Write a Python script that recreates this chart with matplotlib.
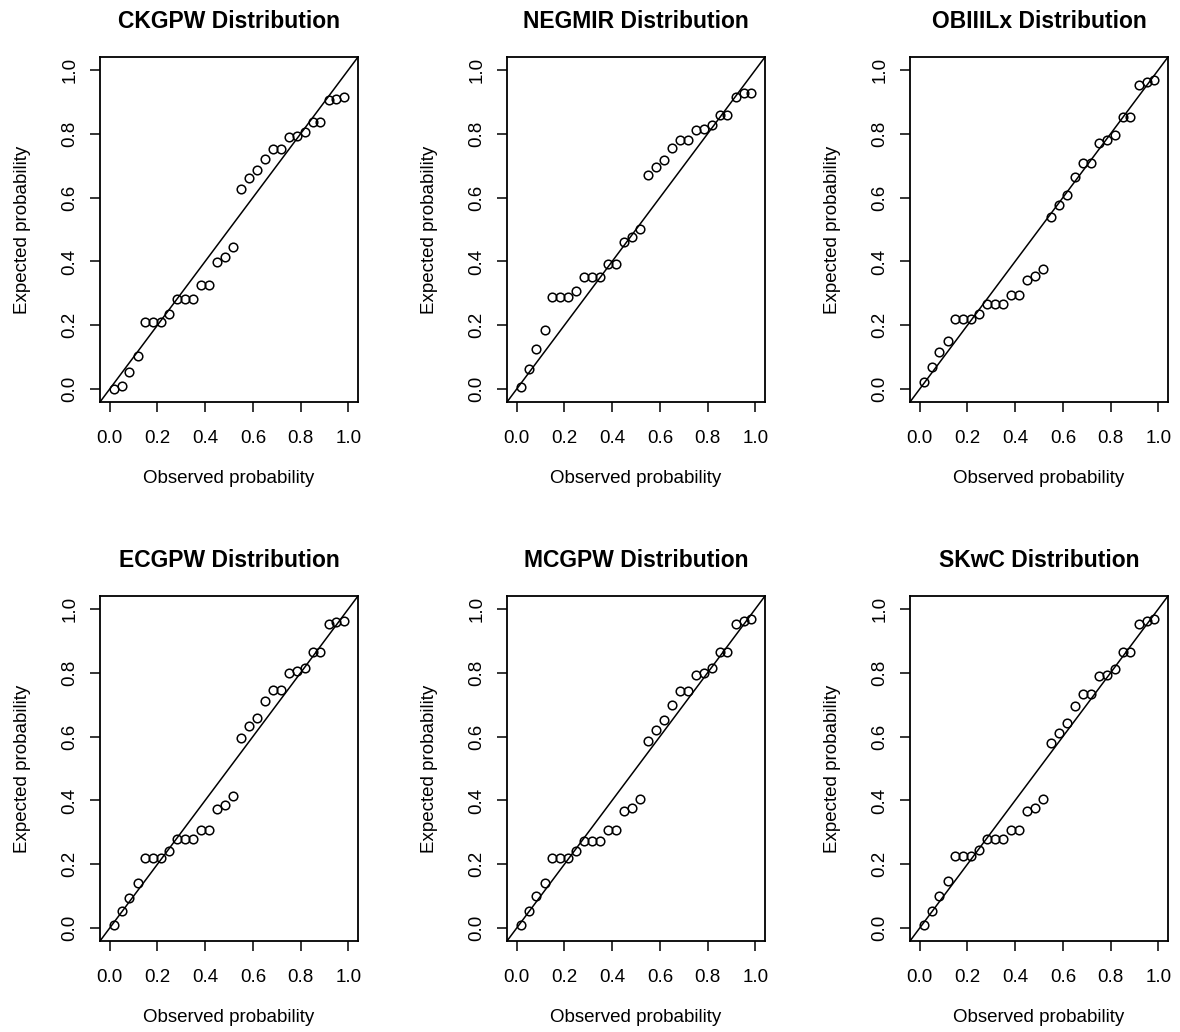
import matplotlib
matplotlib.use("Agg")
import matplotlib.pyplot as plt

plt.rcParams['font.family'] = ['Liberation Sans', 'DejaVu Sans']

# observed probabilities (same for every panel)
observed = [0.017, 0.050, 0.083, 0.117, 0.150, 0.183, 0.217, 0.250, 0.283, 0.317,
            0.350, 0.383, 0.417, 0.450, 0.483, 0.517, 0.550, 0.583, 0.617, 0.650,
            0.683, 0.717, 0.750, 0.783, 0.817, 0.850, 0.883, 0.917, 0.950, 0.983]

titles = ["CKGPW Distribution", "NEGMIR Distribution", "OBIIILx Distribution",
          "ECGPW Distribution", "MCGPW Distribution", "SKwC Distribution"]

ckgpw = [0.000, 0.010, 0.053, 0.105, 0.209, 0.209, 0.209, 0.236, 0.283, 0.283,
         0.283, 0.325, 0.325, 0.398, 0.414, 0.445, 0.628, 0.660, 0.686, 0.721,
         0.752, 0.752, 0.789, 0.794, 0.805, 0.837, 0.837, 0.904, 0.909, 0.914]
negmir = [0.006, 0.064, 0.126, 0.184, 0.288, 0.288, 0.288, 0.309, 0.351, 0.351,
          0.351, 0.393, 0.393, 0.461, 0.476, 0.502, 0.670, 0.696, 0.717, 0.754,
          0.780, 0.780, 0.811, 0.816, 0.827, 0.858, 0.858, 0.914, 0.927, 0.927]
obiiilx = [0.022, 0.069, 0.116, 0.152, 0.220, 0.220, 0.220, 0.236, 0.267, 0.267,
           0.267, 0.294, 0.294, 0.341, 0.356, 0.377, 0.539, 0.576, 0.607, 0.665,
           0.707, 0.707, 0.770, 0.780, 0.795, 0.853, 0.853, 0.953, 0.963, 0.969]
ecgpw = [0.011, 0.053, 0.095, 0.142, 0.220, 0.220, 0.220, 0.241, 0.278, 0.278,
         0.278, 0.309, 0.309, 0.372, 0.387, 0.413, 0.596, 0.633, 0.659, 0.711,
         0.747, 0.747, 0.800, 0.805, 0.815, 0.864, 0.864, 0.953, 0.958, 0.963]
mcgpw = [0.011, 0.053, 0.100, 0.142, 0.220, 0.220, 0.220, 0.241, 0.272, 0.272,
         0.272, 0.309, 0.309, 0.366, 0.377, 0.403, 0.586, 0.622, 0.653, 0.700,
         0.744, 0.744, 0.794, 0.800, 0.815, 0.864, 0.864, 0.953, 0.963, 0.968]
skwc = [0.011, 0.053, 0.100, 0.148, 0.226, 0.226, 0.226, 0.246, 0.278, 0.278,
        0.278, 0.309, 0.309, 0.366, 0.377, 0.403, 0.580, 0.612, 0.643, 0.695,
        0.732, 0.732, 0.789, 0.794, 0.810, 0.864, 0.864, 0.953, 0.963, 0.968]

expected = [ckgpw, negmir, obiiilx, ecgpw, mcgpw, skwc]
ticks = [0.0, 0.2, 0.4, 0.6, 0.8, 1.0]

W, H = 1180, 1032
fig = plt.figure(figsize=(W / 100, H / 100), dpi=100)

lefts = [100, 507, 910]
bottoms = [402, 941]
aw, ah = 258, 345

for k in range(6):
    r, c = divmod(k, 3)
    ax = fig.add_axes([lefts[c] / W, (H - bottoms[r]) / H, aw / W, ah / H])
    ax.plot(observed, expected[k], 'o', ms=6.2, mfc='none', mec='black', mew=1.1)
    ax.axline((0, 0), slope=1, color='black', lw=1.1)
    ax.set_xlim(-0.04, 1.04)
    ax.set_ylim(-0.04, 1.04)
    ax.set_xticks(ticks)
    ax.set_yticks(ticks)
    ax.set_xticklabels([f"{t:.1f}" for t in ticks])
    ax.set_yticklabels([f"{t:.1f}" for t in ticks], rotation=90, va='center')
    ax.tick_params(axis='both', length=7.5, width=1.1, labelsize=13.5)
    ax.tick_params(axis='x', pad=12.5)
    ax.tick_params(axis='y', pad=8)
    for s in ax.spines.values():
        s.set_linewidth(1.3)
    ax.set_title(titles[k], fontsize=16.5, fontweight='bold', pad=21)
    ax.set_xlabel("Observed probability", fontsize=13.5, labelpad=17)
    ax.set_ylabel("Expected probability", fontsize=13.5, labelpad=22)

fig.savefig("out.png", dpi=100)
